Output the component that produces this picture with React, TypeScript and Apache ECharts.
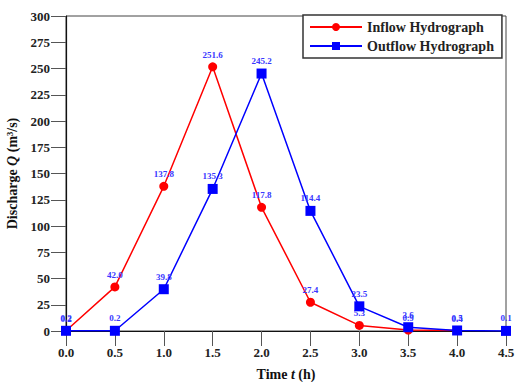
import React, { useEffect, useRef } from "react";
import * as echarts from "echarts";

const timeTicks = [0, 0.5, 1.0, 1.5, 2.0, 2.5, 3.0, 3.5, 4.0, 4.5];
const inflowTimes = [0, 0.5, 1.0, 1.5, 2.0, 2.5, 3.0, 3.5, 4.0];
const inflowValues = [0.2, 42.0, 137.8, 251.6, 117.8, 27.4, 5.3, 0.9, 0.4];
const outflowTimes = [0, 0.5, 1.0, 1.5, 2.0, 2.5, 3.0, 3.5, 4.0, 4.5];
const outflowValues = [0.2, 0.2, 39.8, 135.3, 245.2, 114.4, 23.5, 3.6, 0.5, 0.1];

const FONT = "'Liberation Serif', 'Times New Roman', serif";

export default function App() {
  const ref = useRef<HTMLDivElement>(null);
  useEffect(() => {
    if (!ref.current) return;
    const chart = echarts.init(ref.current, undefined, { renderer: "svg" });
    const labelCfg = {
      show: true,
      position: "top" as const,
      distance: 3,
      color: "#3838ff",
      fontSize: 9,
      fontWeight: "bold" as const,
      fontFamily: FONT,
      formatter: (p: any) => Number(p.value[1]).toFixed(1),
    };
    chart.setOption({
      animation: false,
      backgroundColor: "#fff",
      grid: {
        left: 66,
        right: 10,
        top: 16,
        bottom: 51,
        show: true,
        borderColor: "#444",
        borderWidth: 1,
        outerBoundsMode: "none",
        containLabel: false,
      },
      legend: {
        orient: "vertical",
        left: 303,
        top: 15,
        width: 200,
        padding: [5, 8, 5, 6],
        itemGap: 5,
        itemWidth: 52,
        itemHeight: 10,
        borderColor: "#333",
        borderWidth: 1.5,
        backgroundColor: "#fff",
        textStyle: { fontFamily: FONT, fontWeight: "bold", fontSize: 14, color: "#222" },
        data: ["Inflow Hydrograph", "Outflow Hydrograph"],
      },
      xAxis: {
        type: "value",
        min: 0,
        max: 4.5,
        interval: 0.5,
        name: "{n|Time }{i|t}{n| (h)}",
        nameLocation: "middle",
        nameGap: 36,
        nameTextStyle: {
          rich: {
            n: { fontFamily: FONT, fontWeight: "bold", fontSize: 14, color: "#111" },
            i: { fontFamily: FONT, fontWeight: "bold", fontStyle: "italic", fontSize: 14, color: "#111" },
          },
        },
        axisLine: { show: true, lineStyle: { color: "#111", width: 1.2 } },
        axisTick: { show: true, length: 15, lineStyle: { color: "#555", width: 1 } },
        splitLine: { show: false },
        axisLabel: {
          margin: 15,
          fontFamily: FONT,
          fontWeight: "bold",
          fontSize: 13,
          color: "#222",
          formatter: (v: number) => v.toFixed(1),
        },
      },
      yAxis: {
        type: "value",
        min: 0,
        max: 300,
        interval: 25,
        name: "{n|Discharge }{i|Q}{n| (m³/s)}",
        nameLocation: "middle",
        nameGap: 42,
        nameRotate: 90,
        nameTextStyle: {
          rich: {
            n: { fontFamily: FONT, fontWeight: "bold", fontSize: 14, color: "#111" },
            i: { fontFamily: FONT, fontWeight: "bold", fontStyle: "italic", fontSize: 14, color: "#111" },
          },
        },
        axisLine: { show: true, lineStyle: { color: "#111", width: 1.2 } },
        axisTick: { show: true, length: 15, lineStyle: { color: "#555", width: 1 } },
        splitLine: { show: false },
        axisLabel: {
          margin: 16,
          fontFamily: FONT,
          fontWeight: "bold",
          fontSize: 13,
          color: "#222",
        },
      },
      series: [
        {
          name: "Inflow Hydrograph",
          type: "line",
          data: inflowTimes.map((t, i) => [t, inflowValues[i]]),
          symbol: "circle",
          symbolSize: 9,
          itemStyle: { color: "#ff0000" },
          lineStyle: { color: "#ff0000", width: 1.5 },
          label: labelCfg,
          z: 2,
        },
        {
          name: "Outflow Hydrograph",
          type: "line",
          data: outflowTimes.map((t, i) => [t, outflowValues[i]]),
          symbol: "rect",
          symbolSize: 10,
          itemStyle: { color: "#0000ff" },
          lineStyle: { color: "#0000ff", width: 1.5 },
          label: labelCfg,
          z: 3,
        },
      ],
    });
    return () => chart.dispose();
  }, []);
  return <div ref={ref} style={{ width: 516, height: 382, position: "absolute", left: 0, top: 0 }} />;
}
